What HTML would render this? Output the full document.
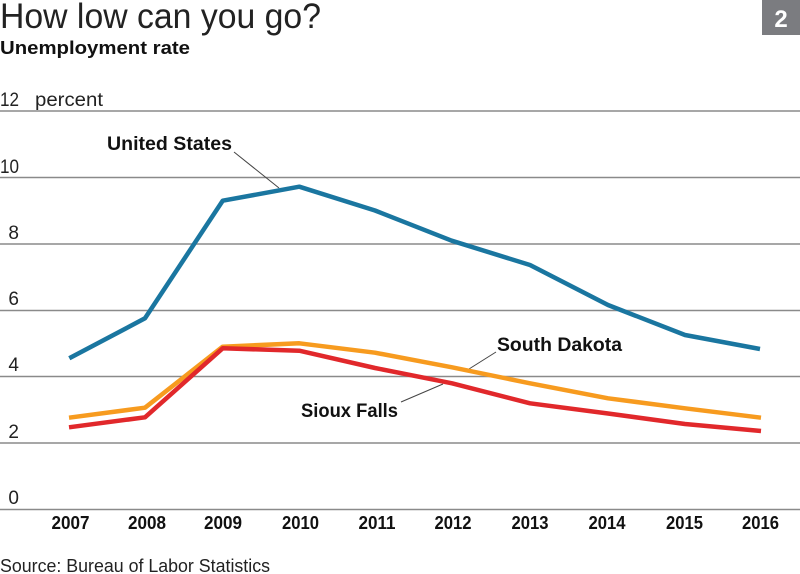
<!DOCTYPE html>
<html><head><meta charset="utf-8"><style>
html,body{margin:0;padding:0;background:#fff;}
svg{display:block;}
</style></head><body>
<svg width="800" height="574" viewBox="0 0 800 574" xmlns="http://www.w3.org/2000/svg" font-family="'Liberation Sans', sans-serif">
<rect width="800" height="574" fill="#fff"/>
<!-- title -->
<text x="0" y="28" font-size="35" font-weight="300" fill="#222" textLength="321" lengthAdjust="spacingAndGlyphs">How low can you go?</text>
<text x="0" y="54" font-size="18" font-weight="bold" fill="#111" textLength="190" lengthAdjust="spacingAndGlyphs">Unemployment rate</text>
<rect x="762" y="0" width="38" height="35" fill="#7b7c80"/>
<text x="781" y="27" font-size="24" font-weight="bold" fill="#fff" text-anchor="middle">2</text>
<!-- gridlines -->
<g stroke="#8a8a8a" stroke-width="1.5">
<line x1="0" y1="111" x2="800" y2="111"/>
<line x1="0" y1="177.5" x2="800" y2="177.5"/>
<line x1="0" y1="244" x2="800" y2="244"/>
<line x1="0" y1="310.5" x2="800" y2="310.5"/>
<line x1="0" y1="376.5" x2="800" y2="376.5"/>
<line x1="0" y1="443" x2="800" y2="443"/>
<line x1="0" y1="509.5" x2="800" y2="509.5"/>
</g>
<!-- y labels -->
<g font-size="19" fill="#222">
<text x="0" y="106" textLength="19" lengthAdjust="spacingAndGlyphs">12</text>
<text x="35" y="106" textLength="68" lengthAdjust="spacingAndGlyphs">percent</text>
<text x="0" y="173" textLength="19" lengthAdjust="spacingAndGlyphs">10</text>
</g>
<g font-size="19" fill="#222" text-anchor="end">
<text x="19" y="239">8</text>
<text x="19" y="305">6</text>
<text x="19" y="371">4</text>
<text x="19" y="438">2</text>
<text x="19" y="504">0</text>
</g>
<!-- x labels -->
<g font-size="18" font-weight="bold" fill="#111" text-anchor="middle">
<text x="70.5" y="529" textLength="38" lengthAdjust="spacingAndGlyphs">2007</text>
<text x="147" y="529" textLength="38" lengthAdjust="spacingAndGlyphs">2008</text>
<text x="223" y="529" textLength="38" lengthAdjust="spacingAndGlyphs">2009</text>
<text x="300.5" y="529" textLength="37" lengthAdjust="spacingAndGlyphs">2010</text>
<text x="377" y="529" textLength="37" lengthAdjust="spacingAndGlyphs">2011</text>
<text x="453" y="529" textLength="37" lengthAdjust="spacingAndGlyphs">2012</text>
<text x="530" y="529" textLength="37" lengthAdjust="spacingAndGlyphs">2013</text>
<text x="607" y="529" textLength="37" lengthAdjust="spacingAndGlyphs">2014</text>
<text x="684.5" y="529" textLength="37" lengthAdjust="spacingAndGlyphs">2015</text>
<text x="760.5" y="529" textLength="37" lengthAdjust="spacingAndGlyphs">2016</text>
</g>
<!-- source -->
<text x="0" y="572" font-size="18" font-weight="300" fill="#222" textLength="270" lengthAdjust="spacingAndGlyphs">Source: Bureau of Labor Statistics</text>
<!-- leader lines -->
<g stroke="#444" stroke-width="1">
<line x1="234" y1="152" x2="279" y2="188"/>
<line x1="496" y1="352" x2="469" y2="369"/>
<line x1="401" y1="402" x2="443" y2="384"/>
</g>
<!-- series -->
<g fill="none" stroke-width="4.5" stroke-linejoin="round">
<polyline stroke="#f79b1f" points="69,417.7 145,407.7 222.7,346.7 299.3,343.3 375,352.7 452,367.3 530,383.3 608,398.3 685,408.3 761,417.7"/>
<polyline stroke="#e1282b" points="69,427.3 145,417.3 222.7,348.3 299.3,350.7 375,368 452,383.3 530,403.3 608,413.5 685,424 761,431"/>
<polyline stroke="#1a76a0" points="69.3,358.3 145,318.3 222.7,200.7 299.3,186.7 375,210.5 451.7,240.7 530,265 608,305 685,335 760,349"/>
</g>
<!-- series labels -->
<g font-size="19" font-weight="bold" fill="#111">
<text x="107" y="150" textLength="125" lengthAdjust="spacingAndGlyphs">United States</text>
<text x="497" y="351" textLength="125" lengthAdjust="spacingAndGlyphs">South Dakota</text>
<text x="301" y="417" textLength="97" lengthAdjust="spacingAndGlyphs">Sioux Falls</text>
</g>
</svg>
</body></html>
